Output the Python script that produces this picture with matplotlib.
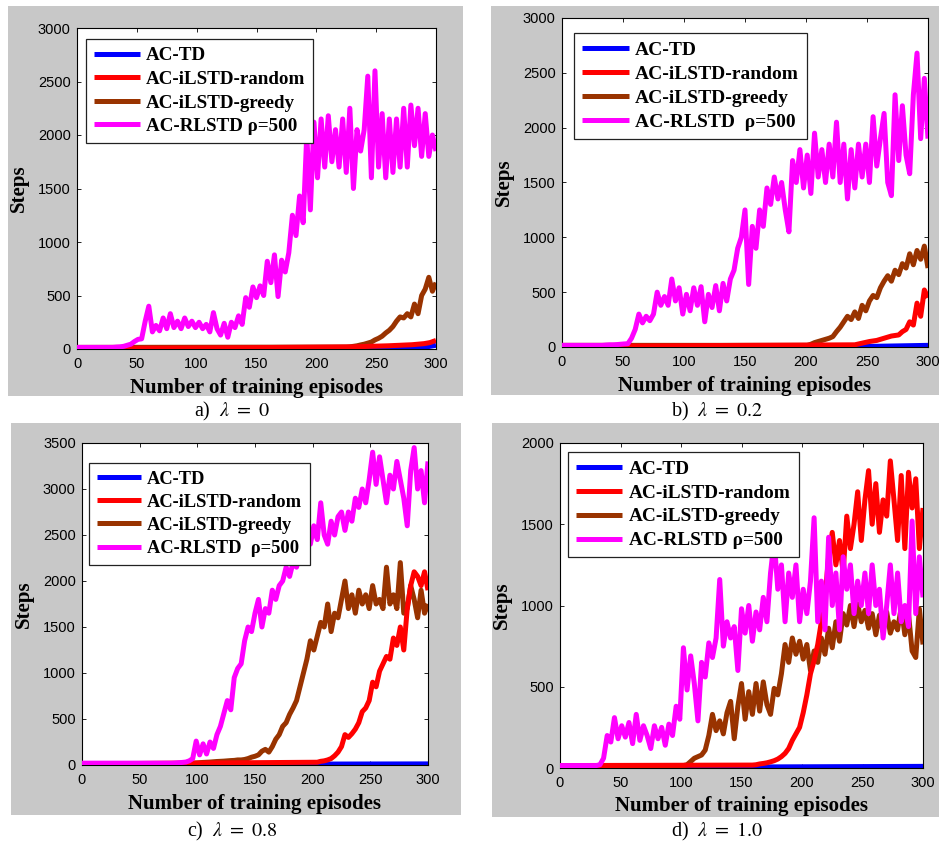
import numpy as np
import matplotlib
matplotlib.use("Agg")
import matplotlib.pyplot as plt
from matplotlib.patches import Rectangle

# ---- data (steps per episode) ----
# noisy series are sampled every 3 episodes starting at *_start;
# a leading point at episode 0 holds the flat baseline value.

# a) lambda = 0
a_td_x = [0, 270, 290, 300]
a_td = [2, 5, 15, 35]
a_random_x = [0, 140, 230, 260, 280, 290, 295, 300]
a_random = [5, 12, 20, 30, 40, 50, 60, 80]
a_greedy_start = 225
a_greedy = [18, 20, 25, 30, 38, 45, 55, 65, 85, 100,
            120, 150, 175, 210, 260, 300, 290, 330, 300, 420,
            330, 500, 560, 670, 540, 620]
a_rlstd_start = 0
a_rlstd = [15, 15, 15, 15, 15, 15, 15, 15, 15, 15,
           15, 18, 20, 25, 35, 45, 70, 90, 95, 260,
           400, 160, 220, 170, 290, 190, 330, 200, 260, 190,
           290, 210, 260, 200, 250, 190, 230, 160, 340, 190,
           130, 240, 110, 250, 200, 310, 230, 480, 390, 580,
           480, 590, 500, 820, 620, 880, 490, 830, 720, 900,
           1250, 1060, 1430, 1180, 2000, 1300, 2120, 1600, 2150, 1700,
           2180, 1750, 2050, 1700, 2150, 1650, 2250, 1500, 2050, 1850,
           2050, 2550, 1600, 2600, 1700, 2200, 1600, 2150, 1650, 2150,
           1700, 2250, 1700, 2280, 1900, 2250, 1800, 2200, 1800, 2000,
           1850]

# b) lambda = 0.2
b_td_x = [0, 250, 300]
b_td = [0, 5, 15]
b_random_x = [0, 150, 240, 246, 252, 258, 264, 270, 276, 279, 282, 285,
              288, 291, 294, 297, 300]
b_random = [5, 15, 20, 35, 50, 60, 80, 100, 110, 140, 160, 230,
            200, 400, 280, 520, 450]
b_greedy_start = 201
b_greedy = [15, 25, 40, 50, 60, 70, 80, 95, 140, 180,
            230, 280, 250, 320, 260, 380, 330, 420, 470, 450,
            540, 600, 650, 600, 700, 660, 760, 720, 850, 750,
            880, 800, 920, 720]
b_rlstd_start = 0
b_rlstd = [15, 15, 15, 15, 15, 15, 15, 15, 15, 15,
           15, 15, 18, 20, 20, 22, 25, 28, 30, 80,
           160, 300, 220, 280, 240, 300, 500, 380, 460, 380,
           620, 420, 540, 300, 480, 330, 540, 380, 550, 230,
           480, 360, 560, 330, 580, 420, 620, 700, 900, 1000,
           1250, 570, 1100, 900, 1250, 1100, 1450, 1300, 1550, 1350,
           1500, 1250, 1050, 1700, 1500, 1800, 1450, 1750, 1400, 1950,
           1550, 1800, 1500, 1850, 1550, 2050, 1500, 1850, 1350, 1800,
           1450, 1850, 1550, 1850, 1500, 2100, 1650, 1900, 2130, 1500,
           1380, 2300, 1700, 2200, 1750, 1580, 2300, 2680, 1900, 2450,
           1900]

# c) lambda = 0.8
c_td_x = [0, 200, 300]
c_td = [0, 10, 12]
c_random_start = 204
c_random = [30, 40, 45, 55, 70, 100, 140, 200, 330, 300,
            340, 390, 460, 580, 620, 700, 900, 850, 1020, 1100,
            1180, 1150, 1380, 1300, 1500, 1250, 1700, 1950, 2100, 2050,
            1950, 2100, 1900]
c_greedy_start = 93
c_greedy = [18, 20, 22, 25, 28, 30, 32, 35, 38, 40,
            42, 45, 48, 50, 55, 55, 60, 70, 85, 95,
            110, 150, 170, 140, 200, 280, 330, 420, 460, 550,
            620, 700, 850, 1000, 1150, 1350, 1250, 1400, 1550, 1500,
            1750, 1450, 1650, 1600, 1800, 2000, 1700, 1850, 1650, 1900,
            1750, 1850, 1700, 1950, 1750, 1800, 1700, 2150, 1750, 1850,
            1700, 2200, 1650, 1700, 1950, 1800, 1600, 1900, 1650, 1750]
c_rlstd_start = 0
c_rlstd = [20, 20, 20, 20, 20, 20, 20, 20, 20, 20,
           20, 20, 20, 20, 20, 20, 20, 20, 20, 20,
           20, 20, 20, 20, 20, 20, 20, 22, 25, 28,
           32, 45, 70, 260, 110, 230, 120, 250, 180, 330,
           420, 560, 700, 600, 950, 1050, 1100, 1350, 1500, 1450,
           1650, 1800, 1500, 1700, 1650, 1900, 1800, 1950, 2000, 2150,
           2050, 2200, 2150, 2300, 2250, 2450, 2400, 2600, 2450, 2850,
           2500, 2400, 2650, 2500, 2700, 2750, 2550, 2750, 2650, 2900,
           2800, 3000, 2850, 3100, 3400, 3050, 3350, 3100, 2850, 3150,
           3000, 3300, 3100, 2900, 2600, 3200, 3450, 3000, 3200, 2850,
           3300]

# d) lambda = 1.0
d_td_x = [0, 100, 300]
d_td = [0, 5, 10]
d_random_start = 159
d_random = [18, 20, 25, 28, 32, 38, 45, 55, 70, 90,
            120, 170, 210, 250, 340, 450, 580, 660, 760, 900,
            1050, 1300, 1450, 1250, 1400, 1200, 1550, 1350, 1500, 1700,
            1400, 1650, 1830, 1500, 1750, 1450, 1650, 1550, 1890, 1650,
            1400, 1800, 1350, 1820, 1600, 1780, 1350, 1600]
d_greedy_start = 102
d_greedy = [15, 20, 40, 60, 70, 80, 110, 200, 330, 230,
            290, 210, 340, 410, 180, 380, 520, 300, 470, 330,
            520, 350, 530, 390, 330, 490, 450, 580, 760, 650,
            800, 700, 780, 670, 760, 600, 720, 650, 800, 700,
            860, 740, 900, 780, 950, 880, 1000, 870, 1010, 900,
            970, 860, 950, 820, 940, 840, 960, 830, 900, 850,
            990, 820, 950, 720, 680, 980, 760]
d_rlstd_start = 0
d_rlstd = [15, 15, 15, 15, 15, 15, 15, 15, 15, 15,
           15, 20, 60, 200, 160, 310, 180, 260, 190, 280,
           150, 330, 170, 260, 200, 120, 260, 180, 250, 140,
           270, 200, 380, 300, 740, 480, 690, 520, 290, 650,
           560, 770, 680, 800, 1160, 750, 900, 800, 870, 600,
           980, 830, 1000, 780, 960, 850, 1050, 900, 1200, 1400,
           1100, 1250, 900, 1200, 1050, 1250, 900, 1100, 950, 1150,
           1540, 900, 1150, 850, 1420, 1000, 1200, 850, 1300, 1100,
           1250, 950, 1150, 1000, 1200, 950, 1250, 1000, 1100, 800,
           1000, 1250, 950, 1200, 900, 1000, 870, 1520, 950, 1300,
           1050]

BASE = 15
LABELS = ["AC-TD", "AC-iLSTD-random", "AC-iLSTD-greedy", "AC-RLSTD ρ=500"]
COLORS = ["#0000ff", "#ff0000", "#993300", "#ff00ff"]
ZORDER = [2, 4, 3, 5]   # magenta on top, red above brown


def sampled(start, values, base=BASE):
    x = np.arange(start, 301, 3)
    if start == 0:
        return x, np.array(values)
    return np.concatenate([[0], x]), np.array([base] + values)


W, H = 939, 843
plt.rcParams["font.family"] = ["Liberation Sans", "DejaVu Sans"]
plt.rcParams["mathtext.fontset"] = "stix"

fig = plt.figure(figsize=(W / 100, H / 100), dpi=100)


def frac(x0, y0, x1, y1):
    return [x0 / W, 1 - y1 / H, (x1 - x0) / W, (y1 - y0) / H]


panels = [
    dict(gray=(8, 6, 463, 396), box=(77, 28, 436, 349), ymax=3000,
         leg=(86, 39), legsize=13.7, rl="AC-RLSTD ρ=500",
         cap=(232, 416.5), text=r"a)  $\lambda\ =\ 0$",
         series=[(a_td_x, a_td),
                 (a_random_x, a_random),
                 sampled(a_greedy_start, a_greedy),
                 sampled(a_rlstd_start, a_rlstd)]),
    dict(gray=(491, 6, 939, 395), box=(562, 18, 928, 347), ymax=3000,
         leg=(574, 33), legsize=14.0, rl="AC-RLSTD  ρ=500",
         cap=(717, 416.5), text=r"b)  $\lambda\ =\ 0.2$",
         series=[(b_td_x, b_td),
                 (b_random_x, b_random),
                 sampled(b_greedy_start, b_greedy),
                 sampled(b_rlstd_start, b_rlstd)]),
    dict(gray=(11, 423, 461, 815), box=(82, 443, 428, 765), ymax=3500,
         leg=(89, 463), legsize=13.3, rl="AC-RLSTD  ρ=500",
         cap=(232.5, 836.5), text=r"c)  $\lambda\ =\ 0.8$",
         series=[(c_td_x, c_td),
                 sampled(c_random_start, c_random, 12),
                 sampled(c_greedy_start, c_greedy),
                 sampled(c_rlstd_start, c_rlstd)]),
    dict(gray=(492, 423, 939, 817), box=(560, 443, 923, 768), ymax=2000,
         leg=(568, 452), legsize=13.9, rl="AC-RLSTD ρ=500",
         cap=(717, 836.5), text=r"d)  $\lambda\ =\ 1.0$",
         series=[(d_td_x, d_td),
                 sampled(d_random_start, d_random),
                 sampled(d_greedy_start, d_greedy),
                 sampled(d_rlstd_start, d_rlstd)]),
]

for p in panels:
    gx0, gy0, gx1, gy1 = p["gray"]
    fig.patches.append(Rectangle((gx0 / W, 1 - gy1 / H), (gx1 - gx0) / W,
                                 (gy1 - gy0) / H, transform=fig.transFigure,
                                 facecolor="#c8c8c8", edgecolor="none",
                                 zorder=-10))

    x0, y0, x1, y1 = p["box"]
    aw, ah = x1 - x0, y1 - y0
    ax = fig.add_axes(frac(x0, y0, x1, y1))
    ax.set_facecolor("white")

    handles = []
    for (xs, ys), c, z, lab in zip(p["series"], COLORS, ZORDER, LABELS):
        h, = ax.plot(xs, ys, color=c, lw=3.6, zorder=z,
                     solid_joinstyle="round", solid_capstyle="butt")
        handles.append(h)

    ax.set_xlim(0, 300)
    ax.set_ylim(0, p["ymax"])
    ax.set_xticks(np.arange(0, 301, 50))
    ax.set_yticks(np.arange(0, p["ymax"] + 1, 500))
    ax.tick_params(direction="in", length=3, width=0.6, top=True, right=True,
                   labelsize=10.5, colors="black")
    ax.tick_params(axis="x", pad=6)
    ax.tick_params(axis="y", pad=4.5)
    for s in ax.spines.values():
        s.set_linewidth(0.8)

    ax.set_xlabel("Number of training episodes", family="Liberation Serif",
                  weight="bold", fontsize=15)
    ax.xaxis.set_label_coords(0.5, -28.5 / ah)
    ax.set_ylabel("Steps", family="Liberation Serif", weight="bold",
                  fontsize=15)
    ax.yaxis.set_label_coords(-48.5 / aw, 0.5)

    lx, ly = p["leg"]
    labels = LABELS[:3] + [p["rl"]]
    leg = ax.legend(handles, labels, loc="upper left",
                    bbox_to_anchor=((lx - x0) / aw, 1 - (ly - y0) / ah),
                    borderaxespad=0, fancybox=False, framealpha=1,
                    edgecolor="#222222", borderpad=0.42, labelspacing=0.33,
                    handlelength=2.4, handletextpad=0.32,
                    prop=dict(family="Liberation Serif", weight="bold",
                              size=p["legsize"]))
    leg.get_frame().set_linewidth(0.9)
    leg.set_zorder(10)

    cx, cy = p["cap"]
    fig.text(cx / W, 1 - cy / H, p["text"], ha="center", va="baseline",
             fontsize=14.5, family="Liberation Serif")

fig.savefig("out.png", dpi=100, facecolor="white")
